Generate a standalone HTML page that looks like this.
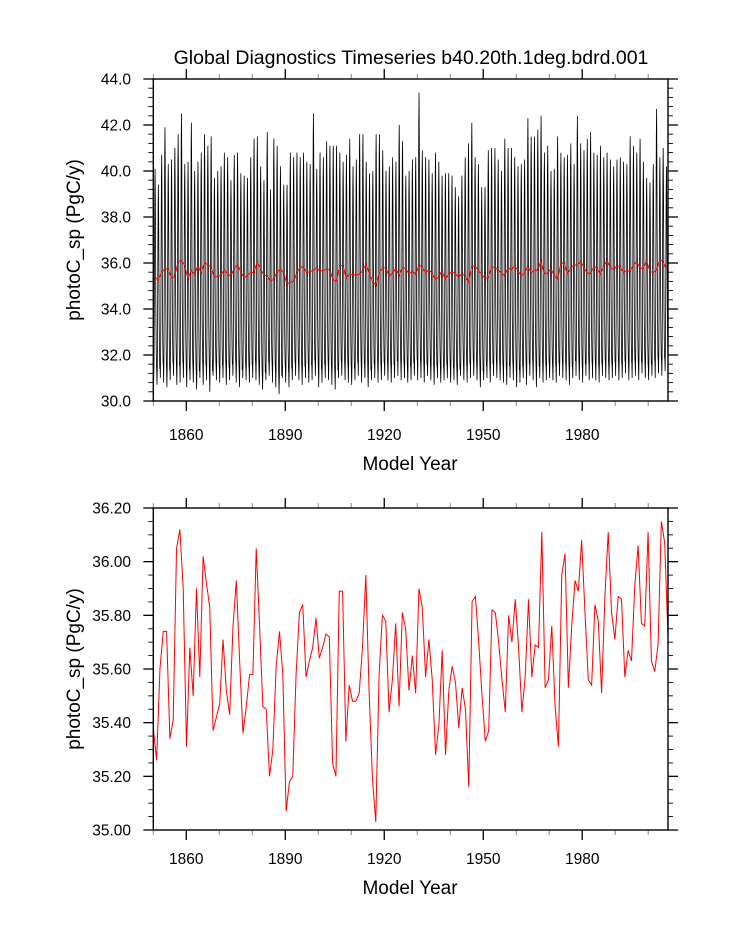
<!DOCTYPE html>
<html><head><meta charset="utf-8"><style>
html,body{margin:0;padding:0;background:#fff}
svg{display:block;font-family:"Liberation Sans",sans-serif}
</style></head><body>
<svg id="c" width="733" height="945" viewBox="0 0 733 945"></svg>
<script>
// ---- data ----
const annualMean = [35.38,35.26,35.60,35.74,35.74,35.34,35.41,36.05,36.12,35.90,
35.31,35.68,35.50,35.90,35.57,36.02,35.92,35.83,35.37,35.42,
35.47,35.71,35.52,35.43,35.76,35.93,35.63,35.36,35.46,35.58,
35.58,36.05,35.76,35.46,35.45,35.20,35.30,35.61,35.74,35.58,
35.07,35.18,35.20,35.58,35.81,35.84,35.57,35.63,35.68,35.79,
35.64,35.68,35.73,35.72,35.25,35.20,35.89,35.89,35.33,35.54,
35.48,35.48,35.51,35.68,35.95,35.51,35.19,35.03,35.58,35.80,
35.78,35.44,35.56,35.77,35.46,35.81,35.75,35.52,35.65,35.51,
35.90,35.83,35.57,35.71,35.56,35.28,35.39,35.67,35.28,35.52,
35.61,35.55,35.38,35.53,35.45,35.16,35.85,35.87,35.70,35.50,
35.33,35.37,35.82,35.81,35.70,35.56,35.44,35.80,35.70,35.86,
35.68,35.44,35.57,35.86,35.57,35.69,35.68,36.11,35.53,35.56,
35.76,35.46,35.31,35.95,36.03,35.53,35.76,35.93,35.89,36.08,
35.81,35.56,35.54,35.84,35.78,35.51,35.87,36.11,35.81,35.71,
35.87,35.86,35.57,35.67,35.63,35.91,36.06,35.77,35.76,36.11,
35.63,35.59,35.69,36.15,36.07,35.72];
const yearMax = [40.1,39.4,40.7,41.9,40.3,40.5,41.0,41.6,42.5,40.3,
40.4,42.1,40.0,40.4,40.8,41.6,41.1,41.5,39.7,40.0,
40.2,40.8,40.6,39.6,40.7,40.8,39.9,39.8,39.7,40.6,
41.4,41.5,40.2,39.6,41.7,39.2,41.4,41.1,40.2,39.4,
39.4,40.8,40.6,40.8,40.6,40.8,40.4,40.3,42.5,40.1,
40.8,40.6,41.3,41.1,41.1,41.1,40.8,40.4,40.7,41.4,
40.2,40.5,41.6,41.6,40.4,39.9,40.0,41.6,41.6,40.9,
40.0,40.2,40.6,40.4,42.0,41.3,39.8,40.0,40.5,40.6,
43.4,40.9,40.6,40.5,39.9,40.8,40.4,39.8,39.9,39.9,
39.8,39.3,38.9,39.8,40.6,41.2,42.1,40.6,40.3,39.3,
39.3,40.9,41.0,41.0,40.5,40.0,41.4,41.0,41.0,40.6,
40.2,40.3,40.5,42.3,41.5,41.5,41.8,42.4,40.8,41.1,
40.0,40.1,41.5,40.8,40.6,40.7,41.2,40.3,42.4,41.2,
40.9,41.4,41.7,40.8,40.7,41.1,40.6,40.8,40.5,40.2,
40.5,40.6,40.4,40.3,41.5,41.1,40.8,41.4,40.4,39.7,
39.5,40.3,42.7,40.6,41.0,40.2];
const yearMin = [30.9,30.7,31.0,30.8,30.6,30.9,31.1,30.7,30.8,31.0,
30.6,30.9,30.8,30.5,31.0,30.7,30.9,30.4,31.1,30.9,
30.8,31.0,30.7,30.9,31.1,30.8,30.6,31.0,30.9,30.8,
31.0,30.9,30.7,30.5,30.9,31.1,30.8,30.6,30.3,31.0,
30.8,30.6,30.9,31.1,30.9,30.7,31.0,30.8,30.9,31.1,
30.6,30.8,31.0,30.9,30.7,30.5,31.0,31.1,30.9,30.8,
30.7,30.9,31.1,30.8,31.0,30.6,30.9,31.0,30.8,30.9,
31.1,30.9,30.8,31.0,31.1,30.9,31.0,30.8,30.9,31.1,
30.9,31.0,30.8,31.1,30.9,30.7,31.0,30.8,30.9,31.0,
30.8,30.9,30.7,31.1,30.9,30.8,31.0,31.1,30.9,30.6,
30.9,31.0,30.8,31.1,31.0,30.9,30.8,30.7,31.0,30.9,
30.6,30.8,31.0,30.7,31.1,30.9,30.6,31.0,30.8,30.9,
31.0,30.9,30.8,31.1,31.0,30.9,30.7,31.0,31.1,30.9,
30.8,31.1,30.9,31.0,30.9,30.8,31.1,31.0,30.9,31.0,
31.1,30.9,31.0,31.2,30.9,31.0,31.1,30.9,31.2,31.0,
30.9,31.1,31.0,31.2,31.1,31.3];
const seasonShape = [0.06,0.0,0.08,0.3,0.62,0.9,1.0,0.84,0.55,0.3,0.16,0.08];
const firstYear = 1850;
const xTickLabels = [1860,1890,1920,1950,1980];
const yTicksTop = ["30.0","32.0","34.0","36.0","38.0","40.0","42.0","44.0"];
const yTicksBot = ["35.00","35.20","35.40","35.60","35.80","36.00","36.20"];

const NS="http://www.w3.org/2000/svg";
const svg=document.getElementById('c');
function mk(tag,attrs,parent){const e=document.createElementNS(NS,tag);for(const k in attrs)e.setAttribute(k,attrs[k]);(parent||svg).appendChild(e);return e;}

const L=153.3,R=668;
const X0=1850,X1=2006;
function xs(t){return L+(t-X0)/(X1-X0)*(R-L);}

function panel(name,top,bot,ymin,ymax,yLabels,yMinorStep,tickY,titleY){
  const g=mk('g',{});
  
  
  const ys=v=>bot-(v-ymin)/(ymax-ymin)*(bot-top);
  // x ticks
  for(let yr=1850;yr<=2006;yr+=10){
    if(yr<X0||yr>X1)continue;
    const x=xs(yr),maj=(yr-1860)%30===0;const len=maj?10:5;
    const col=maj?'#000':'#888';
    mk('line',{x1:x,x2:x,y1:bot,y2:bot+len,stroke:col,'stroke-width':maj?1.3:1},g);
    mk('line',{x1:x,x2:x,y1:top,y2:top-len,stroke:col,'stroke-width':maj?1.3:1},g);
  }
  xTickLabels.forEach(yr=>{
    const t=mk('text',{x:xs(yr),y:tickY,'font-size':15.5,'text-anchor':'middle'},g);
    t.textContent=yr;
    
    
  });
  // y ticks
  const majStep=(ymax-ymin)/(yLabels.length-1);
  const nMin=Math.round((ymax-ymin)/yMinorStep);
  for(let i=0;i<=nMin;i++){
    const v=ymin+i*yMinorStep;const y=ys(v);
    const maj=Math.abs(((v-ymin)/majStep)-Math.round((v-ymin)/majStep))<1e-6;
    const len=maj?10:5;
    mk('line',{x1:L,x2:L-len,y1:y,y2:y,stroke:'#000','stroke-width':maj?1.3:0.9},g);
    mk('line',{x1:R,x2:R+len,y1:y,y2:y,stroke:'#000','stroke-width':maj?1.3:0.9},g);
  }
  yLabels.forEach((lab,i)=>{
    const t=mk('text',{x:131,y:ys(ymin+i*majStep)+5.5,'font-size':15.5,'text-anchor':'end'},g);
    t.textContent=lab;
    
    
  });
  const yt=mk('text',{x:0,y:0,'font-size':19,'text-anchor':'middle',transform:`translate(80,${(top+bot)/2}) rotate(-90)`},g);
  yt.textContent='photoC_sp (PgC/y)';
  
  
  const xt=mk('text',{x:410,y:titleY,'font-size':19,'text-anchor':'middle'},g);
  xt.textContent='Model Year';
  
  
  return {g,ys};
}

// top panel
const TT=79,TB=401;
const p1=panel('top-panel',TT,TB,30,44,yTicksTop,0.4,440,470);
let d='';
yearMax.forEach((mx,i)=>{
  const mn=yearMin[i];
  seasonShape.forEach((s,m)=>{
    const t=firstYear+i+(m+0.5)/12;
    const v=mn+s*(mx-mn);
    d+=(d?'L':'M')+xs(t).toFixed(2)+','+p1.ys(v).toFixed(2);
  });
});
const monthly=mk('path',{d:d,fill:'none',stroke:'#000','stroke-width':0.8},p1.g);


let d2='';
annualMean.forEach((v,i)=>{d2+=(d2?'L':'M')+xs(firstYear+i+0.5).toFixed(2)+','+p1.ys(v).toFixed(2);});
const ann1=mk('path',{d:d2,fill:'none',stroke:'#f00','stroke-width':1},p1.g);


mk('rect',{x:L,y:TT,width:R-L,height:TB-TT,fill:'none',stroke:'#000','stroke-width':1.4},p1.g);

const title=mk('text',{x:411,y:64,'font-size':19.5,'text-anchor':'middle'});
title.textContent='Global Diagnostics Timeseries b40.20th.1deg.bdrd.001';



// bottom panel
const BT=508,BB=830;
const p2=panel('bottom-panel',BT,BB,35.0,36.2,yTicksBot,0.05,864,894);
const BX0=1850,BX1=2005;
function xb(t){return L+(t-BX0)/(BX1-BX0)*(R-L);}
let d3='';
annualMean.forEach((v,i)=>{d3+=(d3?'L':'M')+xb(firstYear+i).toFixed(2)+','+p2.ys(v).toFixed(2);});
const ann2=mk('path',{d:d3,fill:'none',stroke:'#f00','stroke-width':1},p2.g);


mk('rect',{x:L,y:BT,width:R-L,height:BB-BT,fill:'none',stroke:'#000','stroke-width':1.4},p2.g);
</script>
</body></html>
